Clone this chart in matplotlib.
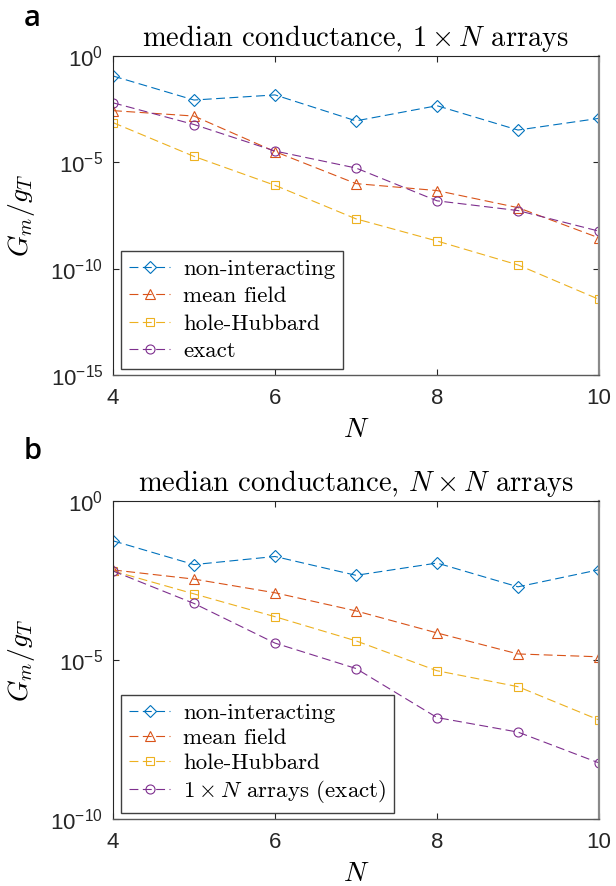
import matplotlib
matplotlib.use("Agg")
import matplotlib.pyplot as plt
from matplotlib.ticker import NullLocator, FixedLocator
from matplotlib.font_manager import FontProperties

plt.rcParams['font.family'] = ['Liberation Sans', 'DejaVu Sans']

# tamanho dos arranjos
N = [4, 5, 6, 7, 8, 9, 10]

# condutância mediana, arranjos 1 x N
a_nao_interagente = [1.15e-1, 8.5e-3, 1.48e-2, 8.9e-4, 4.6e-3, 3.3e-4, 1.17e-3]
a_campo_medio = [2.7e-3, 1.5e-3, 3.2e-5, 1.0e-6, 4.7e-7, 7.4e-8, 2.8e-9]
a_hole_hubbard = [7.4e-4, 1.9e-5, 8.3e-7, 2.2e-8, 2.0e-9, 1.5e-10, 3.6e-12]
exato_1xN = [6.3e-3, 6.0e-4, 3.4e-5, 5.4e-6, 1.55e-7, 5.4e-8, 5.8e-9]

# condutância mediana, arranjos N x N
b_nao_interagente = [5.6e-2, 1.0e-2, 1.8e-2, 4.6e-3, 1.12e-2, 2.0e-3, 6.9e-3]
b_campo_medio = [6.8e-3, 3.5e-3, 1.3e-3, 3.5e-4, 7.1e-5, 1.55e-5, 1.26e-5]
b_hole_hubbard = [6.3e-3, 1.2e-3, 2.3e-4, 4.0e-5, 4.6e-6, 1.45e-6, 1.3e-7]

rotulos_a = ['non-interacting', 'mean field', 'hole-Hubbard', 'exact']
rotulos_b = ['non-interacting', 'mean field', 'hole-Hubbard',
             r'$1\times N$ arrays (exact)']

cores = ['#0072BD', '#D95319', '#EDB120', '#7E2F8E']
marcadores = ['D', '^', 's', 'o']
tam_marcador = [6.0, 7.0, 6.0, 6.5]
cor_eixo = '#262626'
fonte_leg = 16.5


def cria_legenda(ax, espaco):
    leg = ax.legend(loc='lower left', bbox_to_anchor=(8 / 486, 6 / 319),
                    borderaxespad=0, prop=FontProperties(family='cmr10', size=fonte_leg),
                    fancybox=False, framealpha=1, edgecolor='#404040',
                    handlelength=1.8, handletextpad=0.55, labelspacing=espaco,
                    borderpad=0.35)
    leg.get_frame().set_linewidth(1.0)
    for t in leg.get_texts():
        t.set_math_fontfamily('cm')
    return leg


def desenha_painel(ax, series, rotulos, ylim, yticks, titulo):
    for y, lab, c, m, ms in zip(series, rotulos, cores, marcadores, tam_marcador):
        ax.plot(N, y, linestyle='--', dashes=(8, 4), color=c, lw=0.8,
                marker=m, ms=ms, mfc='none', mec=c, mew=0.8, label=lab)

    ax.set_yscale('log')
    ax.set_xlim(4, 10)
    ax.set_ylim(*ylim)
    ax.set_xticks([4, 6, 8, 10])
    ax.yaxis.set_major_locator(FixedLocator(yticks))
    ax.yaxis.set_minor_locator(NullLocator())
    ax.tick_params(direction='in', length=4, width=0.8, top=True, right=True,
                   labelsize=16, colors=cor_eixo)
    ax.tick_params(axis='x', pad=9)
    ax.tick_params(axis='y', pad=7)

    for lado in ['left', 'top']:
        ax.spines[lado].set_color(cor_eixo)
        ax.spines[lado].set_linewidth(0.8)
    ax.spines['bottom'].set_color('#5a5a5a')
    ax.spines['bottom'].set_linewidth(1.0)
    ax.spines['right'].set_color('#8a8a8a')
    ax.spines['right'].set_linewidth(1.6)

    ax.set_title(titulo, fontfamily='cmr10', math_fontfamily='cm',
                 fontsize=20.5, pad=7)
    ax.set_xlabel(r'$N$', math_fontfamily='cm', fontsize=20)
    ax.set_ylabel(r'$G_m/g_T$', math_fontfamily='cm', fontsize=20)
    ax.xaxis.set_label_coords(0.5, -0.132)
    ax.yaxis.set_label_coords(-0.156, 0.5)
    return cria_legenda(ax, 0.3)


fig = plt.figure(figsize=(6.16, 8.86), dpi=100)
ax_a = fig.add_axes([113 / 616, 1 - 375 / 886, 486 / 616, 319 / 886])
ax_b = fig.add_axes([113 / 616, 1 - 819 / 886, 486 / 616, 318 / 886])

leg_a = desenha_painel(ax_a, [a_nao_interagente, a_campo_medio, a_hole_hubbard, exato_1xN],
                       rotulos_a, (1e-15, 1), [1e-15, 1e-10, 1e-5, 1],
                       r'median conductance, $1\times N$ arrays')
leg_b = desenha_painel(ax_b, [b_nao_interagente, b_campo_medio, b_hole_hubbard, exato_1xN],
                       rotulos_b, (1e-10, 1), [1e-10, 1e-5, 1],
                       r'median conductance, $N\times N$ arrays')

# as duas legendas com a mesma altura (~118 px)
fig.canvas.draw()
for ax, leg in [(ax_a, leg_a), (ax_b, leg_b)]:
    h = leg.get_window_extent().height
    novo = 0.3 - (h - 118) / (3 * fonte_leg * 100 / 72)
    cria_legenda(ax, max(novo, 0.05))

fig.text(32 / 616, 1 - 18 / 886, 'a', fontfamily='Open Sans', fontweight='semibold',
         fontsize=21, ha='center', va='center')
fig.text(33 / 616, 1 - 452 / 886, 'b', fontfamily='Open Sans', fontweight='semibold',
         fontsize=21, ha='center', va='center')

fig.savefig('out.png', dpi=100)
